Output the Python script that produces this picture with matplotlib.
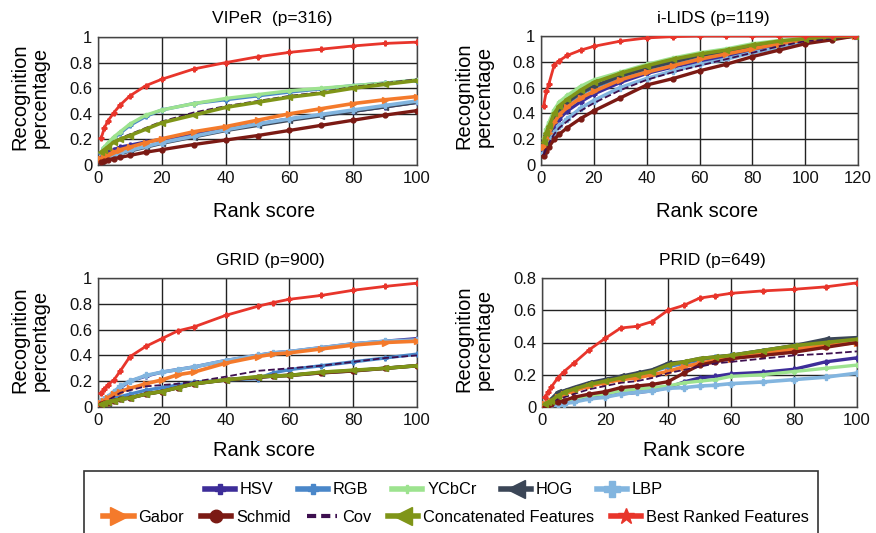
import matplotlib
matplotlib.use("Agg")
import matplotlib.pyplot as plt
from matplotlib.lines import Line2D
from matplotlib.patches import Rectangle

plt.rcParams['font.family'] = ['Liberation Sans', 'DejaVu Sans']

series_names = ["HSV", "RGB", "YCbCr", "HOG", "LBP", "Gabor", "Schmid", "Cov",
                "Concatenated Features", "Best Ranked Features"]

# ---------------- VIPeR ----------------
viper_ranks = [1, 2, 3, 5, 7, 10, 15, 20, 30, 40, 50, 60, 70, 80, 90, 100]
viper_hsv = [0.06, 0.08, 0.10, 0.12, 0.14, 0.155, 0.18, 0.20, 0.24, 0.28, 0.32, 0.36, 0.39, 0.42, 0.455, 0.49]
viper_rgb = [0.09, 0.13, 0.16, 0.21, 0.25, 0.31, 0.38, 0.43, 0.48, 0.51, 0.54, 0.57, 0.595, 0.62, 0.64, 0.66]
viper_ycbcr = [0.10, 0.14, 0.17, 0.22, 0.26, 0.32, 0.39, 0.43, 0.48, 0.52, 0.55, 0.58, 0.60, 0.62, 0.64, 0.665]
viper_hog = [0.03, 0.05, 0.06, 0.08, 0.09, 0.11, 0.14, 0.17, 0.22, 0.27, 0.31, 0.35, 0.385, 0.42, 0.455, 0.49]
viper_lbp = [0.03, 0.05, 0.06, 0.08, 0.095, 0.115, 0.145, 0.175, 0.225, 0.275, 0.32, 0.36, 0.395, 0.43, 0.465, 0.50]
viper_gabor = [0.05, 0.06, 0.08, 0.10, 0.12, 0.14, 0.175, 0.205, 0.26, 0.30, 0.35, 0.40, 0.44, 0.48, 0.51, 0.535]
viper_schmid = [0.02, 0.03, 0.04, 0.05, 0.06, 0.075, 0.10, 0.12, 0.16, 0.195, 0.23, 0.27, 0.31, 0.35, 0.39, 0.425]
viper_cov = [0.10, 0.12, 0.14, 0.18, 0.21, 0.24, 0.29, 0.34, 0.41, 0.46, 0.50, 0.54, 0.57, 0.61, 0.64, 0.67]
viper_concat = [0.10, 0.12, 0.14, 0.18, 0.20, 0.23, 0.28, 0.33, 0.39, 0.45, 0.49, 0.53, 0.56, 0.60, 0.63, 0.66]
viper_best = [0.21, 0.29, 0.34, 0.41, 0.47, 0.54, 0.62, 0.67, 0.75, 0.80, 0.845, 0.88, 0.905, 0.93, 0.95, 0.96]

# ---------------- i-LIDS ----------------
ilids_ranks = [1, 2, 3, 5, 7, 10, 15, 20, 30, 40, 50, 60, 70, 80, 90, 100, 110, 119]
ilids_hsv = [0.10, 0.17, 0.22, 0.30, 0.36, 0.42, 0.49, 0.55, 0.64, 0.71, 0.76, 0.80, 0.84, 0.88, 0.92, 0.96, 0.98, 1.0]
ilids_rgb = [0.13, 0.21, 0.27, 0.36, 0.42, 0.48, 0.55, 0.60, 0.68, 0.74, 0.79, 0.84, 0.87, 0.91, 0.94, 0.97, 0.99, 1.0]
ilids_ycbcr = [0.21, 0.28, 0.33, 0.43, 0.49, 0.54, 0.61, 0.66, 0.72, 0.78, 0.83, 0.87, 0.90, 0.94, 0.965, 0.98, 0.995, 1.0]
ilids_hog = [0.15, 0.23, 0.29, 0.38, 0.44, 0.49, 0.56, 0.61, 0.69, 0.75, 0.80, 0.85, 0.88, 0.92, 0.95, 0.975, 0.99, 1.0]
ilids_lbp = [0.09, 0.14, 0.18, 0.25, 0.30, 0.36, 0.44, 0.50, 0.60, 0.67, 0.73, 0.78, 0.82, 0.87, 0.91, 0.95, 0.98, 1.0]
ilids_gabor = [0.14, 0.20, 0.25, 0.33, 0.39, 0.45, 0.52, 0.57, 0.66, 0.72, 0.77, 0.82, 0.86, 0.90, 0.94, 0.97, 0.99, 1.0]
ilids_schmid = [0.07, 0.11, 0.14, 0.20, 0.24, 0.29, 0.36, 0.42, 0.52, 0.62, 0.67, 0.73, 0.78, 0.84, 0.89, 0.94, 0.97, 1.0]
ilids_cov = [0.08, 0.13, 0.17, 0.24, 0.29, 0.34, 0.42, 0.48, 0.58, 0.66, 0.72, 0.77, 0.82, 0.87, 0.92, 0.96, 0.98, 1.0]
ilids_concat = [0.18, 0.25, 0.30, 0.40, 0.46, 0.51, 0.58, 0.64, 0.71, 0.77, 0.82, 0.86, 0.89, 0.93, 0.96, 0.98, 0.995, 1.0]
ilids_best = [0.46, 0.57, 0.63, 0.775, 0.81, 0.85, 0.89, 0.92, 0.96, 0.985, 0.995, 1.0, 1.0, 1.0, 1.0, 1.0, 1.0, 1.0]

# ---------------- GRID ----------------
grid_ranks = [1, 2, 3, 5, 7, 10, 15, 20, 25, 30, 40, 50, 55, 60, 70, 80, 90, 100]
grid_hsv = [0.04, 0.05, 0.07, 0.11, 0.15, 0.20, 0.24, 0.27, 0.29, 0.31, 0.36, 0.40, 0.42, 0.43, 0.46, 0.49, 0.51, 0.53]
grid_rgb = [0.03, 0.04, 0.05, 0.07, 0.08, 0.10, 0.13, 0.15, 0.17, 0.19, 0.21, 0.22, 0.265, 0.29, 0.32, 0.35, 0.38, 0.41]
grid_ycbcr = [0.02, 0.03, 0.03, 0.05, 0.06, 0.07, 0.10, 0.12, 0.15, 0.18, 0.21, 0.235, 0.24, 0.245, 0.27, 0.285, 0.30, 0.32]
grid_hog = [0.02, 0.03, 0.03, 0.05, 0.06, 0.07, 0.10, 0.12, 0.15, 0.18, 0.21, 0.23, 0.24, 0.245, 0.265, 0.28, 0.30, 0.32]
grid_lbp = [0.05, 0.06, 0.08, 0.12, 0.16, 0.20, 0.245, 0.27, 0.29, 0.31, 0.36, 0.40, 0.42, 0.43, 0.46, 0.49, 0.51, 0.52]
grid_gabor = [0.03, 0.05, 0.07, 0.10, 0.12, 0.145, 0.18, 0.21, 0.25, 0.27, 0.34, 0.39, 0.41, 0.42, 0.45, 0.48, 0.50, 0.51]
grid_schmid = [0.02, 0.03, 0.03, 0.05, 0.06, 0.07, 0.10, 0.12, 0.15, 0.18, 0.21, 0.23, 0.24, 0.245, 0.265, 0.28, 0.30, 0.32]
grid_cov = [0.02, 0.03, 0.05, 0.08, 0.11, 0.13, 0.16, 0.17, 0.18, 0.195, 0.235, 0.28, 0.29, 0.30, 0.32, 0.35, 0.38, 0.40]
grid_concat = [0.02, 0.03, 0.04, 0.05, 0.06, 0.07, 0.10, 0.12, 0.15, 0.18, 0.21, 0.235, 0.24, 0.245, 0.27, 0.285, 0.30, 0.32]
grid_best = [0.105, 0.14, 0.17, 0.21, 0.28, 0.39, 0.47, 0.53, 0.59, 0.62, 0.71, 0.78, 0.81, 0.835, 0.865, 0.905, 0.935, 0.96]

# ---------------- PRID ----------------
prid_ranks = [1, 2, 3, 5, 7, 10, 15, 20, 25, 30, 35, 40, 45, 50, 55, 60, 70, 80, 90, 100]
prid_hsv = [0.01, 0.01, 0.02, 0.03, 0.04, 0.05, 0.06, 0.07, 0.08, 0.09, 0.10, 0.12, 0.155, 0.18, 0.19, 0.205, 0.215, 0.234, 0.28, 0.305]
prid_rgb = [0.02, 0.03, 0.04, 0.07, 0.09, 0.11, 0.14, 0.16, 0.18, 0.20, 0.22, 0.25, 0.27, 0.29, 0.31, 0.32, 0.35, 0.38, 0.40, 0.42]
prid_ycbcr = [0.01, 0.01, 0.02, 0.03, 0.04, 0.05, 0.07, 0.08, 0.10, 0.11, 0.12, 0.13, 0.15, 0.16, 0.17, 0.19, 0.20, 0.22, 0.24, 0.26]
prid_hog = [0.02, 0.04, 0.05, 0.09, 0.10, 0.12, 0.15, 0.17, 0.19, 0.21, 0.23, 0.27, 0.28, 0.30, 0.31, 0.32, 0.35, 0.38, 0.42, 0.43]
prid_lbp = [0.0, 0.0, 0.01, 0.01, 0.02, 0.03, 0.05, 0.06, 0.08, 0.09, 0.10, 0.116, 0.12, 0.13, 0.135, 0.145, 0.155, 0.17, 0.185, 0.21]
prid_gabor = [0.02, 0.03, 0.04, 0.06, 0.08, 0.10, 0.13, 0.15, 0.17, 0.18, 0.20, 0.22, 0.25, 0.27, 0.29, 0.30, 0.33, 0.36, 0.38, 0.40]
prid_schmid = [0.0, 0.01, 0.02, 0.03, 0.04, 0.06, 0.08, 0.095, 0.12, 0.13, 0.14, 0.157, 0.21, 0.26, 0.28, 0.30, 0.32, 0.34, 0.37, 0.40]
prid_cov = [0.01, 0.02, 0.03, 0.05, 0.06, 0.08, 0.11, 0.13, 0.15, 0.16, 0.18, 0.21, 0.23, 0.25, 0.27, 0.28, 0.30, 0.32, 0.33, 0.345]
prid_concat = [0.02, 0.03, 0.04, 0.07, 0.09, 0.11, 0.14, 0.16, 0.18, 0.20, 0.22, 0.26, 0.28, 0.30, 0.31, 0.32, 0.35, 0.38, 0.40, 0.42]
prid_best = [0.065, 0.09, 0.125, 0.18, 0.22, 0.27, 0.355, 0.425, 0.49, 0.50, 0.53, 0.60, 0.63, 0.675, 0.69, 0.705, 0.72, 0.73, 0.745, 0.77]

titles = ["VIPeR  (p=316)", "i-LIDS (p=119)", "GRID (p=900)", "PRID (p=649)"]
x_label = "Rank score"
y_label = "Recognition\npercentage"

datasets = [
    (viper_ranks, [viper_hsv, viper_rgb, viper_ycbcr, viper_hog, viper_lbp, viper_gabor,
                   viper_schmid, viper_cov, viper_concat, viper_best]),
    (ilids_ranks, [ilids_hsv, ilids_rgb, ilids_ycbcr, ilids_hog, ilids_lbp, ilids_gabor,
                   ilids_schmid, ilids_cov, ilids_concat, ilids_best]),
    (grid_ranks, [grid_hsv, grid_rgb, grid_ycbcr, grid_hog, grid_lbp, grid_gabor,
                  grid_schmid, grid_cov, grid_concat, grid_best]),
    (prid_ranks, [prid_hsv, prid_rgb, prid_ycbcr, prid_hog, prid_lbp, prid_gabor,
                  prid_schmid, prid_cov, prid_concat, prid_best]),
]

colors = ['#3d2d99', '#4a87c9', '#9de38f', '#3b4657', '#82b5df', '#f47a2b',
          '#7b1a14', '#3d0f4f', '#7f9518', '#e8352b']
markers = ['P', 'P', 'P', '<', 'P', '>', 'o', None, '<', 'P']
plot_ms = [3.5, 3.5, 3, 4.5, 4, 4.5, 3.5, 0, 4.5, 3.5]
plot_lw = [2.4, 2.4, 2.4, 2.6, 2.6, 2.6, 2.4, 1.3, 2.6, 2.0]
leg_markers = ['P', 'P', 'P', '<', 'P', '>', 'o', None, '<', '*']
leg_ms = [7, 7, 6, 13, 11, 13, 9, 0, 13, 12]
styles = ['-', '-', '-', '-', '-', '-', '-', '--', '-', '-']

W, H = 876, 533
fig = plt.figure(figsize=(W / 100, H / 100), dpi=100)

# axes boxes in pixels: left, right, top, bottom
boxes = [(98, 417, 37, 165), (541, 858, 36, 165), (98, 417, 278, 407), (542, 857, 278, 407)]
xlims = [100, 120, 100, 100]
ylims = [1.0, 1.0, 1.0, 0.8]
title_pos = [(272, 18), (713, 18), (270, 260), (712, 260)]
xlabel_pos = [(264, 211), (707, 211), (264, 451), (694, 451)]
ylabel_pos = [(30, 97), (474, 96), (30, 340), (474, 339)]

for k, (ranks, vals) in enumerate(datasets):
    l, r, t, b = boxes[k]
    ax = fig.add_axes([l / W, 1 - b / H, (r - l) / W, (b - t) / H])
    for i, v in enumerate(vals):
        if styles[i] == '--':
            ax.plot(ranks, v, linestyle='--', color=colors[i], lw=plot_lw[i], zorder=3 + i * 0.1)
        else:
            ax.plot(ranks, v, linestyle='-', color=colors[i], lw=plot_lw[i],
                    marker=markers[i], ms=plot_ms[i], mec=colors[i], mfc=colors[i],
                    zorder=3 + i * 0.1)
    ax.set_xlim(0, xlims[k])
    ax.set_ylim(0, ylims[k])
    ax.set_xticks(range(0, xlims[k] + 1, 20))
    yt = [0, 0.2, 0.4, 0.6, 0.8, 1.0] if ylims[k] == 1.0 else [0, 0.2, 0.4, 0.6, 0.8]
    ax.set_yticks(yt)
    ax.set_yticklabels(['0' if y == 0 else ('1' if y == 1.0 else f'{y:.1f}') for y in yt])
    ax.grid(True, color='#222222', lw=1.0)
    ax.set_axisbelow(True)
    ax.tick_params(length=0, labelsize=12, pad=4, colors='#111111')
    for s in ax.spines.values():
        s.set_color('#444444')
        s.set_linewidth(1.0)
    tx, ty = title_pos[k]
    fig.text(tx / W, 1 - ty / H, titles[k], ha='center', va='center', fontsize=12.5)
    xx, xy = xlabel_pos[k]
    fig.text(xx / W, 1 - xy / H, x_label, ha='center', va='center', fontsize=14.5)
    yx, yy = ylabel_pos[k]
    fig.text(yx / W, 1 - yy / H, y_label, ha='center', va='center', rotation=90,
             fontsize=14.5, linespacing=1.05)

# legend
handles = []
for i in range(10):
    if styles[i] == '--':
        h = Line2D([], [], color=colors[i], lw=3, linestyle=(0, (2.2, 1.2)))
    else:
        h = Line2D([], [], color=colors[i], lw=4, marker=leg_markers[i], ms=leg_ms[i],
                   mec=colors[i], mfc=colors[i])
    handles.append(h)

fig.add_artist(Rectangle((84 / W, -0.02), (818 - 84) / W, 0.02 + 1 - 470.5 / H,
                         transform=fig.transFigure, fill=False, ec='#333333', lw=1.2))

fig.legend(handles[:5], series_names[:5], loc='center', bbox_to_anchor=(434 / W, 1 - 490 / H),
           ncol=5, frameon=False, fontsize=11.8, handlelength=1.85, handletextpad=0.3,
           columnspacing=1.45, borderpad=0, borderaxespad=0)
fig.legend(handles[5:], series_names[5:], loc='center', bbox_to_anchor=(456 / W, 1 - 517 / H),
           ncol=5, frameon=False, fontsize=11.8, handlelength=1.85, handletextpad=0.3,
           columnspacing=1.0, borderpad=0, borderaxespad=0)

fig.savefig('out.png', dpi=100)
